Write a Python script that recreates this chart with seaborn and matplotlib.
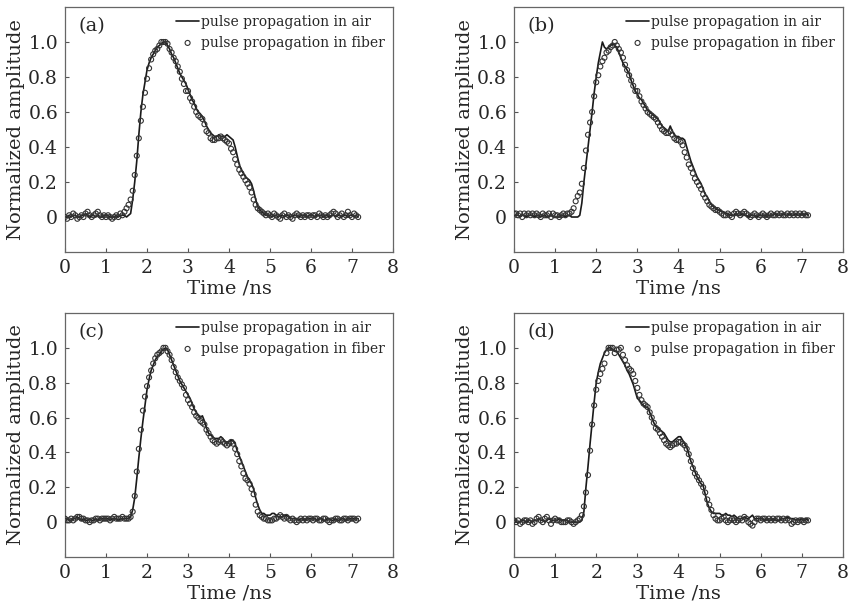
import numpy as np
import matplotlib
matplotlib.use("Agg")
import matplotlib.pyplot as plt
import seaborn as sns

# sampling grid of the scope traces (0 .. 7.15 ns)
t_step = 0.05
time_ns = np.round(np.arange(144) * t_step, 2)

# (a)
air_a = [
    0.00, 0.00, 0.01, 0.00, 0.01, 0.01, 0.00, 0.00, 0.01, 0.01, 0.02, 0.01, 0.00, 0.01, 0.01, 0.00, 0.01, 0.00, 0.00, 0.01,
    0.01, 0.01, 0.00, 0.00, 0.00, 0.01, 0.00, 0.01, 0.01, 0.01, 0.00, 0.01, 0.02, 0.10, 0.20, 0.32, 0.47, 0.60, 0.70, 0.77,
    0.84, 0.88, 0.91, 0.93, 0.95, 0.97, 0.98, 0.99, 1.00, 1.00, 0.98, 0.96, 0.93, 0.91, 0.88, 0.85, 0.82, 0.80, 0.78, 0.76,
    0.73, 0.70, 0.67, 0.65, 0.62, 0.60, 0.59, 0.57, 0.55, 0.52, 0.50, 0.48, 0.47, 0.46, 0.46, 0.47, 0.46, 0.46, 0.46, 0.47,
    0.46, 0.45, 0.44, 0.40, 0.35, 0.30, 0.27, 0.25, 0.23, 0.22, 0.21, 0.19, 0.15, 0.10, 0.06, 0.04, 0.03, 0.02, 0.01, 0.01,
    0.01, 0.00, 0.01, 0.01, 0.00, 0.01, 0.01, 0.00, 0.01, 0.01, 0.00, 0.01, 0.01, 0.01, 0.00, 0.01, 0.01, 0.01, 0.00, 0.01,
    0.01, 0.01, 0.00, 0.01, 0.01, 0.01, 0.00, 0.01, 0.01, 0.00, 0.01, 0.01, 0.00, 0.01, 0.01, 0.00, 0.01, 0.01, 0.00, 0.01,
    0.01, 0.00, 0.01, 0.00,
]
fiber_a = [
    0.00, -0.01, 0.01, 0.00, 0.02, 0.01, -0.01, 0.00, 0.01, 0.00, 0.02, 0.03, 0.01, 0.00, 0.01, 0.02, 0.03, 0.01, 0.00, 0.01,
    0.00, 0.01, 0.00, -0.01, 0.00, 0.01, 0.00, 0.02, 0.01, 0.03, 0.05, 0.07, 0.10, 0.15, 0.24, 0.35, 0.45, 0.55, 0.63, 0.71,
    0.79, 0.85, 0.90, 0.93, 0.95, 0.96, 0.98, 1.00, 1.00, 1.00, 0.99, 0.96, 0.94, 0.91, 0.89, 0.86, 0.83, 0.79, 0.76, 0.72,
    0.72, 0.68, 0.66, 0.63, 0.60, 0.58, 0.57, 0.56, 0.53, 0.49, 0.48, 0.45, 0.44, 0.44, 0.45, 0.45, 0.46, 0.45, 0.44, 0.43,
    0.42, 0.39, 0.37, 0.33, 0.30, 0.27, 0.25, 0.23, 0.21, 0.19, 0.17, 0.14, 0.10, 0.07, 0.05, 0.04, 0.03, 0.02, 0.01, 0.02,
    0.01, 0.00, 0.02, 0.01, 0.00, -0.01, 0.01, 0.02, 0.00, 0.01, 0.00, -0.01, 0.01, 0.02, 0.01, 0.00, 0.01, 0.00, 0.01, 0.01,
    0.00, 0.01, 0.01, 0.00, 0.02, 0.01, 0.00, 0.01, 0.00, 0.01, 0.02, 0.03, 0.02, 0.00, 0.01, 0.02, 0.00, 0.01, 0.03, 0.01,
    0.00, 0.02, 0.01, 0.00,
]

# (b)
air_b = [
    0.01, 0.01, 0.01, 0.00, 0.01, 0.01, 0.00, 0.01, 0.01, 0.01, 0.00, 0.01, 0.01, 0.00, 0.01, 0.01, 0.00, 0.00, 0.01, 0.00,
    0.00, 0.00, 0.00, 0.01, 0.01, 0.00, 0.01, 0.01, 0.00, 0.00, 0.00, 0.00, 0.01, 0.08, 0.20, 0.30, 0.40, 0.50, 0.60, 0.71,
    0.80, 0.88, 0.94, 1.00, 0.97, 0.96, 0.97, 0.98, 0.99, 0.98, 0.97, 0.94, 0.91, 0.88, 0.86, 0.84, 0.82, 0.78, 0.75, 0.72,
    0.70, 0.68, 0.67, 0.65, 0.63, 0.61, 0.60, 0.59, 0.58, 0.57, 0.56, 0.54, 0.52, 0.51, 0.50, 0.49, 0.52, 0.49, 0.47, 0.46,
    0.46, 0.45, 0.45, 0.44, 0.40, 0.36, 0.32, 0.29, 0.26, 0.23, 0.21, 0.19, 0.16, 0.13, 0.115, 0.09, 0.07, 0.06, 0.05, 0.04,
    0.04, 0.03, 0.03, 0.02, 0.02, 0.01, 0.01, 0.01, 0.02, 0.01, 0.01, 0.02, 0.01, 0.01, 0.00, 0.01, 0.01, 0.01, 0.00, 0.01,
    0.01, 0.01, 0.01, 0.00, 0.01, 0.01, 0.01, 0.02, 0.01, 0.01, 0.01, 0.02, 0.01, 0.01, 0.02, 0.01, 0.01, 0.02, 0.01, 0.01,
    0.02, 0.01, 0.02, 0.01,
]
fiber_b = [
    0.02, 0.02, 0.01, 0.02, 0.00, 0.02, 0.01, 0.02, 0.01, 0.02, 0.01, 0.02, 0.01, 0.00, 0.02, 0.01, 0.01, 0.02, 0.00, 0.02,
    0.01, 0.01, 0.00, 0.01, 0.02, 0.01, 0.02, 0.02, 0.03, 0.05, 0.09, 0.12, 0.14, 0.19, 0.28, 0.38, 0.47, 0.54, 0.60, 0.69,
    0.77, 0.81, 0.86, 0.89, 0.91, 0.94, 0.95, 0.97, 0.98, 1.00, 0.98, 0.96, 0.94, 0.91, 0.87, 0.84, 0.81, 0.78, 0.75, 0.72,
    0.72, 0.69, 0.66, 0.64, 0.62, 0.60, 0.59, 0.58, 0.57, 0.56, 0.54, 0.52, 0.50, 0.49, 0.48, 0.48, 0.49, 0.47, 0.45, 0.44,
    0.44, 0.43, 0.41, 0.37, 0.34, 0.30, 0.28, 0.25, 0.22, 0.20, 0.18, 0.16, 0.13, 0.11, 0.09, 0.07, 0.06, 0.05, 0.04, 0.04,
    0.03, 0.02, 0.01, 0.01, 0.02, 0.01, 0.00, 0.02, 0.03, 0.02, 0.01, 0.02, 0.03, 0.02, 0.01, 0.00, 0.01, 0.02, 0.01, 0.00,
    0.01, 0.02, 0.01, 0.00, 0.01, 0.02, 0.01, 0.01, 0.02, 0.01, 0.02, 0.01, 0.01, 0.02, 0.01, 0.02, 0.01, 0.02, 0.01, 0.02,
    0.01, 0.02, 0.01, 0.01,
]

# (c)
air_c = [
    0.01, 0.02, 0.01, 0.01, 0.02, 0.02, 0.03, 0.02, 0.01, 0.02, 0.01, 0.01, 0.02, 0.01, 0.01, 0.02, 0.01, 0.02, 0.02, 0.02,
    0.02, 0.02, 0.01, 0.02, 0.02, 0.02, 0.01, 0.02, 0.02, 0.02, 0.02, 0.02, 0.03, 0.07, 0.14, 0.25, 0.37, 0.48, 0.58, 0.67,
    0.76, 0.82, 0.87, 0.90, 0.93, 0.95, 0.96, 0.98, 0.99, 1.00, 0.99, 0.96, 0.93, 0.90, 0.87, 0.84, 0.81, 0.79, 0.77, 0.75,
    0.73, 0.71, 0.68, 0.65, 0.63, 0.61, 0.60, 0.61, 0.58, 0.54, 0.51, 0.50, 0.49, 0.48, 0.48, 0.48, 0.49, 0.48, 0.46, 0.46,
    0.46, 0.47, 0.47, 0.45, 0.41, 0.38, 0.35, 0.32, 0.29, 0.26, 0.24, 0.22, 0.19, 0.14, 0.10, 0.07, 0.05, 0.05, 0.04, 0.04,
    0.04, 0.05, 0.05, 0.04, 0.03, 0.03, 0.03, 0.04, 0.04, 0.03, 0.02, 0.02, 0.02, 0.02, 0.01, 0.02, 0.02, 0.01, 0.02, 0.02,
    0.02, 0.02, 0.02, 0.01, 0.02, 0.02, 0.01, 0.01, 0.02, 0.02, 0.01, 0.01, 0.02, 0.01, 0.01, 0.02, 0.02, 0.01, 0.02, 0.02,
    0.02, 0.02, 0.02, 0.02,
]
fiber_c = [
    0.02, 0.01, 0.01, 0.02, 0.01, 0.02, 0.03, 0.03, 0.02, 0.02, 0.01, 0.01, 0.00, 0.01, 0.01, 0.02, 0.02, 0.01, 0.02, 0.02,
    0.02, 0.02, 0.01, 0.02, 0.03, 0.02, 0.02, 0.02, 0.03, 0.02, 0.02, 0.02, 0.03, 0.06, 0.15, 0.29, 0.42, 0.53, 0.64, 0.72,
    0.78, 0.83, 0.87, 0.91, 0.94, 0.96, 0.97, 0.98, 1.00, 1.00, 0.98, 0.96, 0.93, 0.89, 0.86, 0.83, 0.81, 0.79, 0.77, 0.73,
    0.70, 0.68, 0.66, 0.63, 0.61, 0.60, 0.58, 0.57, 0.56, 0.53, 0.51, 0.49, 0.47, 0.46, 0.45, 0.46, 0.47, 0.46, 0.45, 0.44,
    0.45, 0.46, 0.45, 0.42, 0.39, 0.35, 0.32, 0.28, 0.25, 0.24, 0.22, 0.19, 0.16, 0.10, 0.06, 0.04, 0.03, 0.02, 0.02, 0.01,
    0.01, 0.01, 0.02, 0.02, 0.03, 0.04, 0.03, 0.02, 0.03, 0.02, 0.01, 0.02, 0.01, 0.00, 0.01, 0.02, 0.01, 0.02, 0.01, 0.02,
    0.02, 0.01, 0.02, 0.02, 0.01, 0.01, 0.02, 0.02, 0.01, 0.00, 0.01, 0.01, 0.02, 0.02, 0.01, 0.01, 0.02, 0.02, 0.01, 0.02,
    0.02, 0.02, 0.01, 0.02,
]

# (d)
air_d = [
    0.01, 0.00, 0.00, 0.00, 0.01, 0.01, 0.00, 0.01, 0.01, 0.00, 0.01, 0.01, 0.02, 0.01, 0.01, 0.00, 0.01, 0.02, 0.01, 0.01,
    0.01, 0.01, 0.02, 0.01, 0.01, 0.01, 0.01, 0.00, 0.00, 0.00, 0.00, 0.00, 0.00, 0.01, 0.06, 0.20, 0.32, 0.45, 0.57, 0.69,
    0.80, 0.86, 0.91, 0.94, 0.97, 0.99, 1.00, 1.00, 0.99, 0.98, 0.98, 0.96, 0.94, 0.92, 0.90, 0.87, 0.85, 0.82, 0.79, 0.75,
    0.71, 0.70, 0.68, 0.67, 0.66, 0.66, 0.63, 0.60, 0.57, 0.55, 0.54, 0.53, 0.52, 0.51, 0.49, 0.47, 0.46, 0.46, 0.47, 0.48,
    0.49, 0.49, 0.47, 0.45, 0.43, 0.39, 0.35, 0.32, 0.29, 0.26, 0.24, 0.22, 0.21, 0.16, 0.11, 0.08, 0.06, 0.05, 0.05, 0.05,
    0.05, 0.04, 0.04, 0.05, 0.04, 0.04, 0.03, 0.04, 0.03, 0.02, 0.02, 0.02, 0.03, 0.02, 0.02, 0.03, 0.04, 0.02, 0.02, 0.02,
    0.02, 0.02, 0.01, 0.02, 0.01, 0.01, 0.02, 0.01, 0.01, 0.01, 0.02, 0.02, 0.02, 0.03, 0.02, 0.02, 0.02, 0.01, 0.02, 0.01,
    0.02, 0.01, 0.02, 0.01,
]
fiber_d = [
    0.01, 0.00, 0.01, -0.01, 0.00, 0.01, 0.01, 0.00, 0.01, -0.01, 0.00, 0.02, 0.03, 0.01, 0.00, 0.02, 0.03, 0.01, -0.01, 0.01,
    0.02, 0.01, 0.01, 0.00, 0.00, 0.00, 0.01, 0.01, 0.00, -0.01, 0.00, 0.01, 0.02, 0.04, 0.09, 0.17, 0.27, 0.41, 0.56, 0.67,
    0.76, 0.81, 0.85, 0.88, 0.91, 0.97, 1.00, 1.00, 1.00, 0.97, 0.99, 0.99, 1.00, 0.96, 0.93, 0.90, 0.88, 0.87, 0.85, 0.81,
    0.77, 0.73, 0.70, 0.68, 0.67, 0.66, 0.63, 0.60, 0.57, 0.54, 0.53, 0.51, 0.49, 0.47, 0.45, 0.44, 0.43, 0.44, 0.45, 0.45,
    0.46, 0.46, 0.45, 0.44, 0.42, 0.39, 0.35, 0.31, 0.28, 0.26, 0.24, 0.22, 0.20, 0.17, 0.13, 0.10, 0.07, 0.04, 0.02, 0.01,
    0.01, 0.02, 0.03, 0.01, 0.00, 0.01, 0.02, 0.01, 0.00, 0.01, 0.02, 0.01, 0.03, 0.02, 0.00, -0.01, -0.02, 0.00, 0.02, 0.02,
    0.01, 0.02, 0.02, 0.01, 0.02, 0.01, 0.02, 0.01, 0.02, 0.02, 0.01, 0.02, 0.01, 0.02, 0.01, -0.01, 0.00, 0.01, 0.00, 0.01,
    0.01, 0.00, 0.01, 0.01,
]

panels = [
    ("(a)", air_a, fiber_a),
    ("(b)", air_b, fiber_b),
    ("(c)", air_c, fiber_c),
    ("(d)", air_d, fiber_d),
]
label_air = "pulse propagation in air"
label_fiber = "pulse propagation in fiber"
x_ticks = [0, 1, 2, 3, 4, 5, 6, 7, 8]
y_ticks = [0, 0.2, 0.4, 0.6, 0.8, 1.0]
y_tick_labels = ["0", "0.2", "0.4", "0.6", "0.8", "1.0"]

sns.set_style("ticks")
plt.rcParams["font.family"] = ["DejaVu Serif"]

fig = plt.figure(figsize=(8.49, 6.07), dpi=100)
# axes boxes in figure fractions (left, bottom, width, height)
boxes = [
    [0.0766, 0.5848, 0.3863, 0.4037],
    [0.6054, 0.5848, 0.3875, 0.4037],
    [0.0766, 0.0824, 0.3863, 0.4020],
    [0.6054, 0.0824, 0.3875, 0.4020],
]

for (tag, air, fiber), box in zip(panels, boxes):
    ax = fig.add_axes(box)
    sns.lineplot(x=time_ns, y=air, ax=ax, color="#1a1a1a", linewidth=1.2,
                 label=label_air)
    sns.scatterplot(x=time_ns, y=fiber, ax=ax, marker="o", s=13,
                    facecolor="none", edgecolor="#333333", linewidth=0.8,
                    label=label_fiber, zorder=3)
    ax.set_xlim(0, 8)
    ax.set_ylim(-0.2, 1.2)
    ax.set_xticks(x_ticks)
    ax.set_yticks(y_ticks)
    ax.set_yticklabels(y_tick_labels)
    ax.tick_params(direction="in", length=3, width=0.8, labelsize=13.5,
                   color="#555555", pad=5)
    for sp in ax.spines.values():
        sp.set_color("#666666")
        sp.set_linewidth(0.9)
    ax.set_xlabel("Time /ns", fontsize=14, labelpad=2)
    ax.set_ylabel("Normalized amplitude", fontsize=14, labelpad=2)
    ax.text(0.04, 0.96, tag, transform=ax.transAxes, fontsize=14,
            va="top", ha="left")
    ax.legend(loc="upper right", frameon=False, fontsize=10,
              handlelength=1.7, handletextpad=0.1, labelspacing=0.45,
              borderaxespad=0.4, borderpad=0.2)

fig.savefig("out.png", dpi=100)
